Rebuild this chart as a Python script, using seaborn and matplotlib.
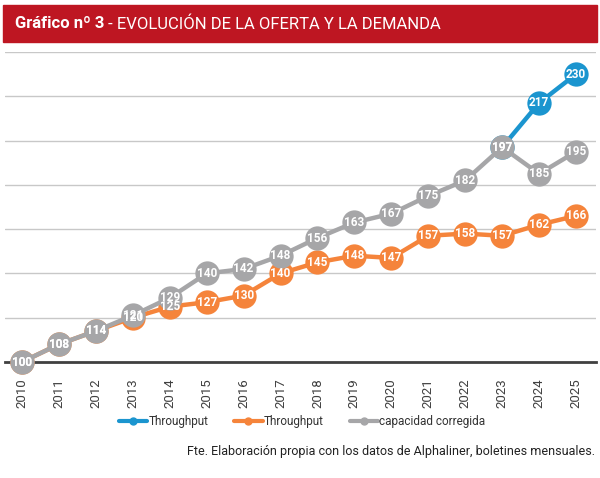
import pandas as pd
import matplotlib.pyplot as plt
import seaborn as sns
from matplotlib.patches import Rectangle
from matplotlib.lines import Line2D

# Data
years = list(range(2010, 2026))
demanda_years = [2023, 2024, 2025]
demanda = [197, 217, 230]
throughput = [100, 108, 114, 120, 125, 127, 130, 140, 145, 148, 147, 157, 158, 157, 162, 166]
capacidad = [100, 108, 114, 121, 129, 140, 142, 148, 156, 163, 167, 175, 182, 197, 185, 195]

BLUE = '#1b95cf'
ORANGE = '#f5843b'
GRAY = '#a6a6a8'
RED = '#be1622'

sns.set_theme(style='white')
plt.rcParams['font.family'] = ['Roboto', 'DejaVu Sans']

df_dem = pd.DataFrame({'year': demanda_years, 'value': demanda})
df_thr = pd.DataFrame({'year': years, 'value': throughput})
df_cap = pd.DataFrame({'year': years, 'value': capacidad})

fig = plt.figure(figsize=(6, 4.78), dpi=100)
ax = fig.add_axes([5 / 600, 116 / 478, 591 / 600, 310 / 478])

# gridlines
for g in range(120, 241, 20):
    ax.axhline(g, color='#c8c8c8', lw=1, zorder=0)

series = [(df_dem, BLUE, 2), (df_thr, ORANGE, 3), (df_cap, GRAY, 4)]
for d, c, z in series:
    sns.lineplot(data=d, x='year', y='value', color=c, lw=3.2, marker='o',
                 markersize=17.5, markeredgewidth=0, ax=ax, zorder=z,
                 clip_on=False)
    for x, v in zip(d['year'], d['value']):
        ax.text(x, v, str(v), ha='center', va='center', color='white',
                fontsize=8.5, fontweight='bold', zorder=10)

ax.set_xlim(2009.54, 2025.54)
ax.set_ylim(100, 240)
ax.set_xticks(years)
ax.set_xticklabels([str(y) for y in years], rotation=90, fontsize=9.5, color='#404040')
ax.set_yticks([])
ax.set_xlabel('')
ax.set_ylabel('')
ax.tick_params(axis='x', length=0, pad=12)
for s in ['top', 'left', 'right']:
    ax.spines[s].set_visible(False)
ax.spines['bottom'].set_color('#404040')
ax.spines['bottom'].set_linewidth(2)
ax.spines['bottom'].set_zorder(1)

# header bar
fig.patches.append(Rectangle((3 / 600, 1 - 42 / 478), 594 / 600, 37 / 478,
                             transform=fig.transFigure, color=RED, zorder=0))
t1 = fig.text(15 / 600, 1 - 24 / 478, 'Gráfico nº 3', color='white',
              fontsize=12, fontweight='bold', va='center', ha='left')
fig.canvas.draw()
bb = t1.get_window_extent()
fig.text(bb.x1 / 600, 1 - 24 / 478, ' - EVOLUCIÓN DE LA OFERTA Y LA DEMANDA',
         color='white', fontsize=12, va='center', ha='left')

# legend
handles = [Line2D([], [], color=BLUE, lw=3, marker='o', markersize=5),
           Line2D([], [], color=ORANGE, lw=3, marker='o', markersize=5),
           Line2D([], [], color=GRAY, lw=3, marker='o', markersize=5)]
fig.legend(handles, ['Throughput', 'Throughput', 'capacidad corregida'],
           loc='center', bbox_to_anchor=(302 / 600, 1 - 422 / 478), ncol=3,
           frameon=False, fontsize=8.5, handlelength=2.4, handletextpad=0.1,
           columnspacing=2.2, labelcolor='#333333')

fig.text(595 / 600, 1 - 452 / 478,
         'Fte. Elaboración propia con los datos de Alphaliner, boletines mensuales.',
         ha='right', va='center', fontsize=9, color='#222222')

fig.savefig('out.png', dpi=100)
